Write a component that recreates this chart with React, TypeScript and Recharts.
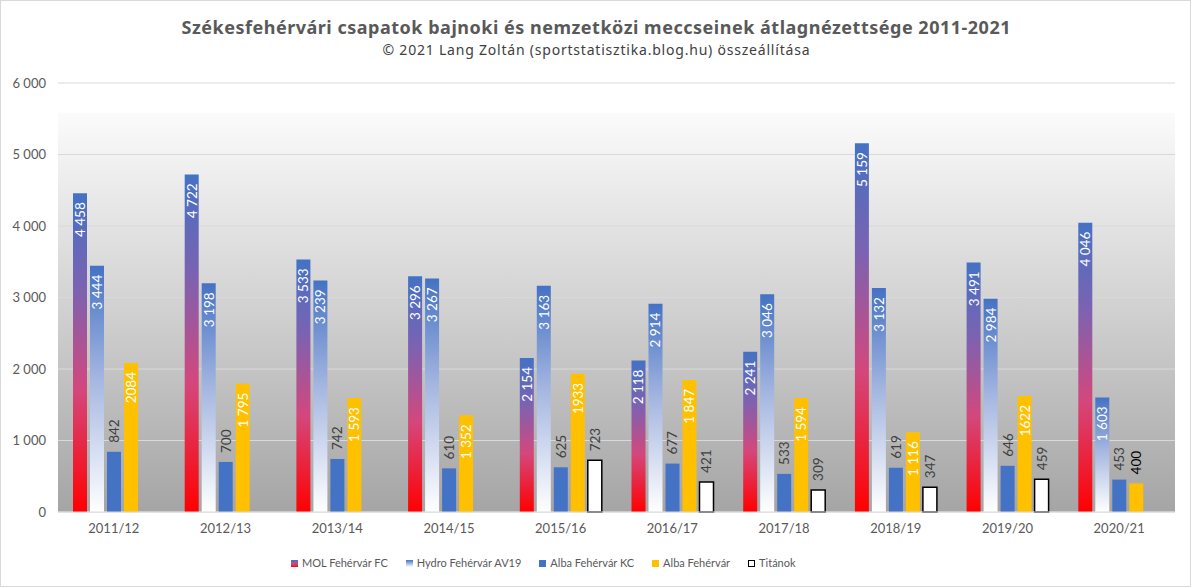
import React from 'react';
import { BarChart, Bar, XAxis, YAxis, CartesianGrid, LabelList } from 'recharts';

const seasons = ['2011/12', '2012/13', '2013/14', '2014/15', '2015/16', '2016/17', '2017/18', '2018/19', '2019/20', '2020/21'];
const molFC = [4458, 4722, 3533, 3296, 2154, 2118, 2241, 5159, 3491, 4046];
const hydroAV19 = [3444, 3198, 3239, 3267, 3163, 2914, 3046, 3132, 2984, 1603];
const albaKC = [842, 700, 742, 610, 625, 677, 533, 619, 646, 453];
const albaFehervar = [2084, 1795, 1593, 1352, 1933, 1847, 1594, 1116, 1622, 400];
const albaFehervarLabels = ['2084', '1 795', '1 593', '1 352', '1933', '1 847', '1 594', '1 116', '1622', '400'];
const titanok: (number | null)[] = [null, null, null, null, 723, 421, 309, 347, 459, null];
const yTicks = [0, 1000, 2000, 3000, 4000, 5000, 6000];
const seriesNames = ['MOL Fehérvár FC', 'Hydro Fehérvár AV19', 'Alba Fehérvár KC', 'Alba Fehérvár', 'Titánok'];

const data = seasons.map((s, i) => ({
  season: s,
  mol: molFC[i],
  hydro: hydroAV19[i],
  kc: albaKC[i],
  alba: albaFehervar[i],
  albaLabel: albaFehervarLabels[i],
  titanok: titanok[i],
}));

const FONT = 'Lato, "Noto Sans", sans-serif';
const TITLE_FONT = '"Noto Sans", Lato, sans-serif';
const fmt = (v: number) => String(v).replace(/\B(?=(\d{3})+(?!\d))/g, ' ');

const makeLabel = (mode: 'inside' | 'outside' | 'auto', color: string, raw = false) => (props: any) => {
  const { x, y, width, height, value } = props;
  if (value == null || value === '') return null;
  const text = raw ? String(value) : fmt(Number(value));
  const cx = Number(x) + Number(width) / 2;
  const bx = cx + 5;
  let m = mode;
  let c = color;
  if (mode === 'auto') {
    if (Number(height) < 40) {
      m = 'outside';
      c = '#000000';
    } else {
      m = 'inside';
    }
  }
  if (m === 'inside') {
    const py = Number(y) + 9;
    return (
      <text x={bx} y={py} transform={`rotate(-90 ${bx} ${py})`} textAnchor="end" fill={c} fontSize={13.5} fontFamily={FONT}>
        {text}
      </text>
    );
  }
  const py = Number(y) - 9;
  return (
    <text x={bx} y={py} transform={`rotate(-90 ${bx} ${py})`} textAnchor="start" fill={c} fontSize={13.5} fontFamily={FONT}>
      {text}
    </text>
  );
};

const legendItems = [
  { name: seriesNames[0], bg: 'linear-gradient(to bottom, #4472c4, #d4457a 60%, #ff0000)', border: 'none' },
  { name: seriesNames[1], bg: 'linear-gradient(to bottom, #4472c4, #ffffff)', border: 'none' },
  { name: seriesNames[2], bg: '#4472c4', border: 'none' },
  { name: seriesNames[3], bg: '#ffc000', border: 'none' },
  { name: seriesNames[4], bg: '#ffffff', border: '1px solid #000' },
];

export default function App() {
  return (
    <div style={{ position: 'absolute', left: 0, top: 0, width: 1194, height: 588, background: '#fff', overflow: 'hidden' }}>
      <svg width={0} height={0} style={{ position: 'absolute' }}>
        <defs>
          <linearGradient id="bgGrad" x1="0" y1="0" x2="0" y2="1">
            <stop offset="0" stopColor="#ffffff" />
            <stop offset="0.068" stopColor="#ffffff" />
            <stop offset="0.07" stopColor="#fbfbfb" />
            <stop offset="1" stopColor="#a5a5a5" />
          </linearGradient>
          <linearGradient id="molGrad" x1="0" y1="0" x2="0" y2="1">
            <stop offset="0" stopColor="#4472c4" />
            <stop offset="0.3" stopColor="#7c62b2" />
            <stop offset="0.62" stopColor="#d4477c" />
            <stop offset="1" stopColor="#ff0000" />
          </linearGradient>
          <linearGradient id="hydroGrad" x1="0" y1="0" x2="0" y2="1">
            <stop offset="0" stopColor="#4472c4" />
            <stop offset="0.45" stopColor="#a3b5e0" />
            <stop offset="1" stopColor="#ffffff" />
          </linearGradient>
        </defs>
      </svg>
      <div style={{ position: 'absolute', left: 0, top: 0 }}>
        <BarChart
          width={1194}
          height={542}
          data={data}
          margin={{ top: 83, right: 19, bottom: 0, left: 0 }}
          barSize={14}
          barGap={3}
        >
          <CartesianGrid vertical={false} stroke="#d9d9d9" fill="url(#bgGrad)" fillOpacity={1} />
          <XAxis
            dataKey="season"
            axisLine={{ stroke: '#d9d9d9' }}
            tickLine={false}
            tickMargin={6}
            height={30}
            tick={{ fill: '#595959', fontSize: 13, fontFamily: FONT }}
          />
          <YAxis
            width={58}
            domain={[0, 6000]}
            ticks={yTicks}
            axisLine={false}
            tickLine={false}
            tickMargin={6}
            tickFormatter={(v: number) => fmt(v)}
            tick={{ fill: '#595959', fontSize: 13, fontFamily: FONT }}
          />
          <Bar dataKey="mol" name={seriesNames[0]} fill="url(#molGrad)" isAnimationActive={false}>
            <LabelList dataKey="mol" content={makeLabel('inside', '#ffffff')} />
          </Bar>
          <Bar dataKey="hydro" name={seriesNames[1]} fill="url(#hydroGrad)" isAnimationActive={false}>
            <LabelList dataKey="hydro" content={makeLabel('inside', '#ffffff')} />
          </Bar>
          <Bar dataKey="kc" name={seriesNames[2]} fill="#4472c4" isAnimationActive={false}>
            <LabelList dataKey="kc" content={makeLabel('outside', '#404040')} />
          </Bar>
          <Bar dataKey="alba" name={seriesNames[3]} fill="#ffc000" isAnimationActive={false}>
            <LabelList dataKey="albaLabel" content={makeLabel('auto', '#ffffff', true)} />
          </Bar>
          <Bar dataKey="titanok" name={seriesNames[4]} fill="#ffffff" stroke="#000000" strokeWidth={1.5} isAnimationActive={false}>
            <LabelList dataKey="titanok" content={makeLabel('outside', '#404040')} />
          </Bar>
        </BarChart>
      </div>
      <svg width={1194} height={588} style={{ position: 'absolute', left: 0, top: 0, pointerEvents: 'none' }}>
        <rect x={0.5} y={0.5} width={1190} height={586} fill="none" stroke="#d9d9d9" />
        <text x={596} y={34} textAnchor="middle" fill="#595959" fontSize={18} fontWeight="bold" fontFamily={TITLE_FONT} textLength={829} lengthAdjust="spacing">
          Székesfehérvári csapatok bajnoki és nemzetközi meccseinek átlagnézettsége 2011-2021
        </text>
        <text x={596} y={55} textAnchor="middle" fill="#404040" fontSize={14} fontFamily={TITLE_FONT} textLength={427} lengthAdjust="spacing">
          © 2021 Lang Zoltán (sportstatisztika.blog.hu) összeállítása
        </text>
      </svg>
      <div
        style={{
          position: 'absolute',
          left: 291,
          top: 555,
          display: 'flex',
          fontFamily: FONT,
          fontSize: 11,
          color: '#595959',
          lineHeight: '16px',
        }}
      >
        {legendItems.map((it, i) => (
          <div key={i} style={{ display: 'flex', alignItems: 'center', marginLeft: i === 0 ? 0 : 18 }}>
            <div style={{ width: 7, height: 7, background: it.bg, border: it.border, boxSizing: 'border-box', marginRight: 4 }} />
            <span>{it.name}</span>
          </div>
        ))}
      </div>
    </div>
  );
}
